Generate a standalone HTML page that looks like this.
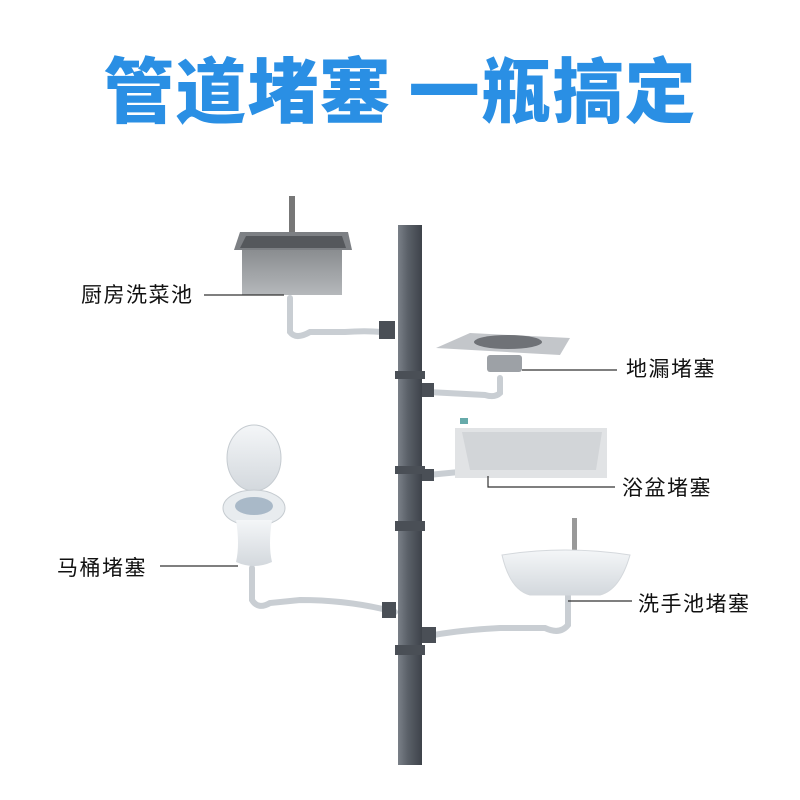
<!DOCTYPE html>
<html><head><meta charset="utf-8"><style>
html,body{margin:0;padding:0;background:#fff;width:800px;height:800px;overflow:hidden}
.t{position:absolute;left:0;top:36px;width:800px;text-align:center;font:900 71px "Noto Sans CJK SC","WenQuanYi Zen Hei",sans-serif;color:#2a8fe4;letter-spacing:1px}
.l{position:absolute;font:21px "Liberation Sans","Noto Sans CJK SC",sans-serif;color:#111;white-space:nowrap;letter-spacing:1.5px}
</style></head><body>
<div class="t">管道堵塞 一瓶搞定</div>
<svg width="800" height="800" style="position:absolute;left:0;top:0">
<defs>
<linearGradient id="pg" x1="0" x2="1"><stop offset="0" stop-color="#7a8088"/><stop offset=".4" stop-color="#5b6169"/><stop offset="1" stop-color="#3e434a"/></linearGradient>
<linearGradient id="ss" x1="0" y1="0" x2="0" y2="1"><stop offset="0" stop-color="#8a8d90"/><stop offset="1" stop-color="#b5b8bb"/></linearGradient>
<linearGradient id="wh" x1="0" y1="0" x2="0" y2="1"><stop offset="0" stop-color="#f4f6f8"/><stop offset="1" stop-color="#d3d8dd"/></linearGradient>
</defs>
<g stroke="#c9ced3" stroke-width="6" fill="none" stroke-linecap="round">
<path d="M290 298 V332 Q296 340 310 332 L345 332 Q370 330 390 333"/>
<path d="M500 378 V393 Q495 398 485 395 L428 392"/>
<path d="M480 470 L428 475"/>
<path d="M252 568 V600 Q258 610 270 603 L300 600 Q350 600 395 612"/>
<path d="M568 595 V625 Q560 635 545 628 L500 628 Q460 630 428 636"/>
</g>
<rect x="398" y="225" width="24" height="540" fill="url(#pg)"/>
<g fill="#4a4f56">
<rect x="395" y="371" width="30" height="8"/><rect x="395" y="466" width="30" height="8"/>
<rect x="395" y="521" width="30" height="10"/><rect x="395" y="645" width="30" height="10"/>
<rect x="379" y="321" width="16" height="18"/><rect x="382" y="602" width="14" height="16"/>
<rect x="422" y="383" width="12" height="14"/><rect x="422" y="469" width="12" height="12"/><rect x="422" y="627" width="14" height="16"/>
</g>
<rect x="289" y="196" width="6" height="38" fill="#777"/>
<polygon points="240,232 348,232 352,250 234,250" fill="#7d8084"/>
<polygon points="246,236 342,236 346,248 240,248" fill="#55585c"/>
<rect x="242" y="250" width="100" height="45" fill="url(#ss)"/>
<polygon points="470,333 570,338 560,355 436,348" fill="#c3c6ca"/>
<ellipse cx="508" cy="342" rx="34" ry="7" fill="#6f7277"/>
<rect x="487" y="355" width="35" height="17" rx="3" fill="#9da1a6"/>
<rect x="455" y="428" width="152" height="50" fill="#e1e3e5"/>
<path d="M462 432 H602 L596 470 H470 Z" fill="#d2d5d8"/>
<rect x="460" y="418" width="8" height="6" fill="#6aa"/>
<ellipse cx="254" cy="458" rx="27" ry="33" fill="url(#wh)" stroke="#c5cbd0"/>
<ellipse cx="254" cy="508" rx="31" ry="18" fill="#e8ecef" stroke="#c5cbd0"/>
<ellipse cx="254" cy="506" rx="19" ry="9" fill="#a9b9c8"/>
<path d="M236 520 Q240 545 236 562 Q254 570 272 562 Q268 545 272 520 Z" fill="url(#wh)"/>
<rect x="572" y="518" width="5" height="34" fill="#999"/>
<path d="M502 555 Q565 545 630 555 Q620 590 600 595 H530 Q510 590 502 555 Z" fill="url(#wh)" stroke="#d4d8dc"/>
<g stroke="#333" stroke-width="1.2" fill="none">
<path d="M204 295 H284"/><path d="M522 370 H617"/><path d="M488 476 V487 H615"/>
<path d="M160 566 H238"/><path d="M568 601 H632"/>
</g>
</svg>
<div class="l" style="left:81px;top:279px">厨房洗菜池</div>
<div class="l" style="left:626px;top:353px">地漏堵塞</div>
<div class="l" style="left:622px;top:472px">浴盆堵塞</div>
<div class="l" style="left:57px;top:552px">马桶堵塞</div>
<div class="l" style="left:638px;top:588px">洗手池堵塞</div>
</body></html>
